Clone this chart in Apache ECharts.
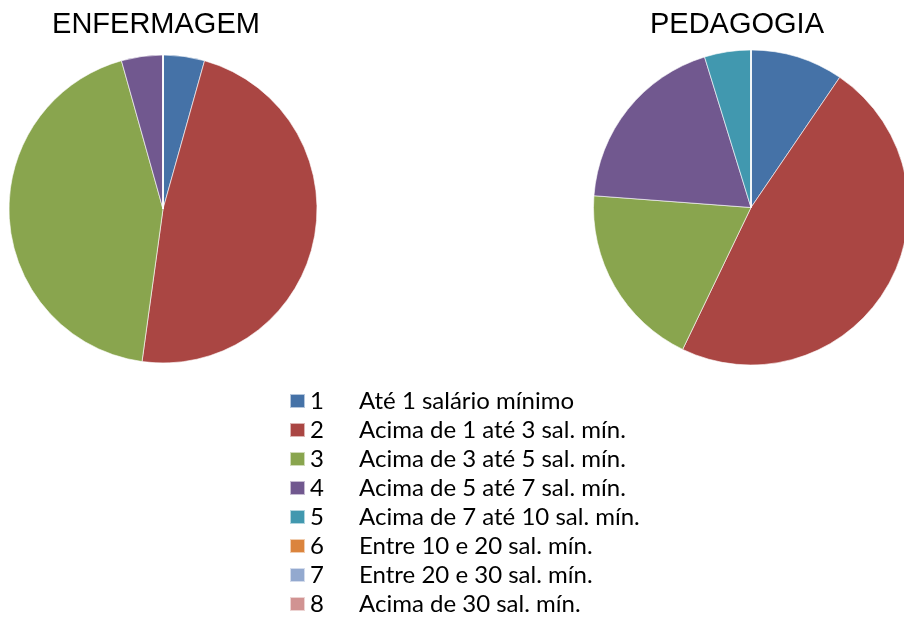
<!DOCTYPE html>
<html style="height: 100%">
    <head>
        <meta charset="utf-8">
        <script type="text/javascript" src="https://cdn.jsdelivr.net/npm/echarts@6/dist/echarts.min.js"></script>
    </head>
    <body style="height: 100%; margin: 0">
        <div id="main" style="width: 904px; height: 618px"></div>
        <script type="text/javascript">
            // faixas salariais (legenda)
            var faixas = ['Até 1 salário mínimo', 'Acima de 1 até 3 sal. mín.', 'Acima de 3 até 5 sal. mín.',
                'Acima de 5 até 7 sal. mín.', 'Acima de 7 até 10 sal. mín.', 'Entre 10 e 20 sal. mín.',
                'Entre 20 e 30 sal. mín.', 'Acima de 30 sal. mín.'];
            var enfermagem = [1, 11, 10, 1, 0, 0, 0, 0];
            var pedagogia = [2, 10, 4, 4, 1, 0, 0, 0];
            var cores = ['#4572A7', '#AA4643', '#89A54E', '#71588F', '#4198AF', '#DB843D', '#93A9CF', '#D19392'];

            function toData(vals) {
                return vals.map(function (v, i) { return { name: faixas[i], value: v }; });
            }

            var myChart = echarts.init(document.getElementById('main'));
            var pieBase = {
                type: 'pie',
                startAngle: 90,
                label: { show: false },
                labelLine: { show: false },
                itemStyle: { borderColor: 'rgba(255,255,255,0.6)', borderWidth: 1 },
                emphasis: { disabled: true }
            };
            myChart.setOption({
                animation: false,
                backgroundColor: '#fff',
                color: cores,
                title: [
                    { text: 'ENFERMAGEM', left: 156, top: 10, padding: 0, textAlign: 'center',
                      textStyle: { fontFamily: 'Liberation Sans', fontSize: 29, fontWeight: 'normal', color: '#000' } },
                    { text: 'PEDAGOGIA', left: 737, top: 10, padding: 0, textAlign: 'center',
                      textStyle: { fontFamily: 'Liberation Sans', fontSize: 29, fontWeight: 'normal', color: '#000' } }
                ],
                legend: {
                    orient: 'vertical',
                    left: 289,
                    top: 389,
                    height: 300,
                    padding: 0,
                    itemGap: 5,
                    itemWidth: 15,
                    itemHeight: 14,
                    icon: 'rect',
                    selectedMode: false,
                    data: faixas,
                    formatter: function (name) {
                        return '{n|' + (faixas.indexOf(name) + 1) + '}{t|' + name + '}';
                    },
                    textStyle: {
                        color: '#000',
                        fontFamily: 'Lato',
                        fontSize: 24,
                        rich: {
                            n: { width: 49, fontFamily: 'Lato', fontSize: 24, color: '#000' },
                            t: { fontFamily: 'Lato', fontSize: 24, color: '#000' }
                        }
                    }
                },
                series: [
                    Object.assign({}, pieBase, { name: 'ENFERMAGEM', center: [163, 209], radius: 154, data: toData(enfermagem) }),
                    Object.assign({}, pieBase, { name: 'PEDAGOGIA', center: [751, 207.5], radius: 157.5, data: toData(pedagogia) })
                ]
            });
        </script>
    </body>
</html>
